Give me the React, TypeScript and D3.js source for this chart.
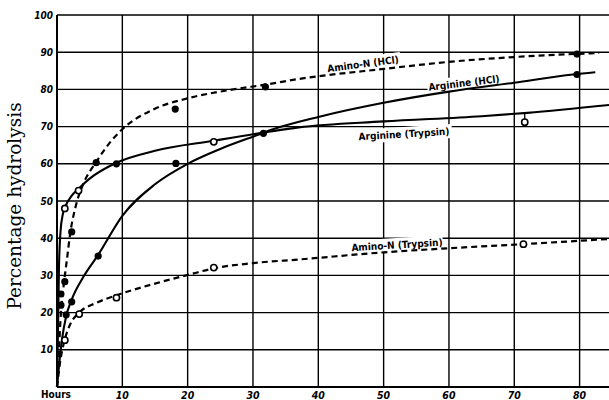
import React from "react";
import * as d3 from "d3";

// ---- data ----
const xTicks = [10, 20, 30, 40, 50, 60, 70, 80];
const yTicks = [10, 20, 30, 40, 50, 60, 70, 80, 90, 100];

// fitted curves [hours, %]
const aminoHClCurve: [number, number][] = [
  [0, 0], [0.3, 10], [0.6, 20], [1, 27], [1.5, 34], [2, 41], [3, 49.5], [4, 54.5],
  [6, 60.5], [8, 65.5], [10, 69.3], [15, 74.8], [20, 77.6], [27, 80], [32, 81.3],
  [37, 82.8], [50, 85.5], [60, 87.4], [70, 88.7], [83, 89.8],
];
const argHClCurve: [number, number][] = [
  [0, 0], [0.7, 12], [1.4, 19], [2.25, 23.5], [4, 29.5], [6.3, 35.5], [10, 46],
  [15, 54.5], [20, 60], [25, 64], [30, 67.3], [34, 69.8], [40, 72.6], [50, 76.4],
  [60, 79.4], [70, 81.8], [79, 84], [82.4, 84.6],
];
const argTrypsinCurve: [number, number][] = [
  [0, 0], [0.15, 15], [0.3, 32], [0.55, 42], [0.9, 46.5], [1.4, 49], [2.2, 51.3],
  [3.3, 53.3], [5, 56], [9, 60.2], [15, 63.5], [24, 66.2], [32, 68.5], [37, 69.8],
  [50, 71.4], [65, 72.8], [72, 73.7], [84.5, 75.8],
];
const aminoTrypsinCurve: [number, number][] = [
  [0, 0], [0.5, 7], [1.2, 12.8], [2, 16.8], [3.4, 20], [6, 22.6], [9, 24.6],
  [15, 27.8], [20.4, 30.3], [24, 31.9], [30, 33.3], [37.2, 34.3], [50, 36.2],
  [60, 37.3], [71.4, 38.4], [84.5, 39.8],
];

// observed points
const filledPoints: [number, number][] = [
  [0.6, 22], [0.6, 25], [1.2, 28.3], [1.4, 19.4], [2.25, 22.9], [2.25, 41.7],
  [6, 60.3], [9.1, 60], [6.3, 35.2], [18.1, 74.7], [18.2, 60.1], [31.9, 80.7],
  [31.6, 68.2], [79.6, 89.5], [79.6, 84],
];
const openPoints: [number, number][] = [
  [1.2, 48], [3.3, 52.8], [1.2, 12.6], [3.4, 19.6], [9.1, 24], [24, 65.9],
  [24, 32.1], [71.6, 71.2], [71.4, 38.4],
];
const stems: [number, number, number][] = [[71.6, 71.2, 73.7]];

const curveLabels = ["Amino-N (HCl)", "Arginine (HCl)", "Arginine (Trypsin)", "Amino-N (Trypsin)"];

export default function App() {
  const W = 609, H = 400;
  const x = d3.scaleLinear().domain([0, 84.5]).range([57, 609]);
  const y = d3.scaleLinear().domain([0, 100]).range([387, 15]);
  const line = d3.line<[number, number]>().x(d => x(d[0])).y(d => y(d[1])).curve(d3.curveMonotoneX);

  const tickFont = "'DejaVu Sans Condensed', 'DejaVu Sans', sans-serif";
  const labelPos = [
    { cx: 363, cy: 64, rot: -7.5, w: 76 },
    { cx: 464, cy: 83, rot: -7, w: 74 },
    { cx: 404, cy: 134, rot: -3.5, w: 96 },
    { cx: 397, cy: 245, rot: -3.5, w: 92 },
  ];

  return (
    <svg width={W} height={H} style={{ position: "absolute", left: 0, top: 0, background: "#fff" }}>
      <rect x={0} y={0} width={W} height={H} fill="#fff" />
      {/* grid */}
      {yTicks.map(t => (
        <line key={"h" + t} x1={x(0)} x2={W} y1={y(t)} y2={y(t)} stroke="#000" strokeWidth={1.4} />
      ))}
      {xTicks.map(t => (
        <line key={"v" + t} x1={x(t)} x2={x(t)} y1={y(100)} y2={y(0)} stroke="#000" strokeWidth={1.4} />
      ))}
      {/* axes */}
      <line x1={x(0)} x2={x(0)} y1={y(100)} y2={y(0)} stroke="#000" strokeWidth={2} />
      <line x1={x(0)} x2={W} y1={y(0)} y2={y(0)} stroke="#000" strokeWidth={2} />

      {/* label backgrounds break grid lines */}
      {labelPos.map((p, i) => (
        <rect key={"bg" + i} x={-p.w / 2} y={-7} width={p.w} height={14} fill="#fff"
          transform={`translate(${p.cx},${p.cy}) rotate(${p.rot})`} />
      ))}

      {/* curves */}
      <path d={line(aminoHClCurve) || ""} fill="none" stroke="#000" strokeWidth={2.2} strokeDasharray="6,4" />
      <path d={line(argHClCurve) || ""} fill="none" stroke="#000" strokeWidth={2.1} />
      <path d={line(argTrypsinCurve) || ""} fill="none" stroke="#000" strokeWidth={2.1} />
      <path d={line(aminoTrypsinCurve) || ""} fill="none" stroke="#000" strokeWidth={2.2} strokeDasharray="6,4" />

      {stems.map((s, i) => (
        <line key={"s" + i} x1={x(s[0])} x2={x(s[0])} y1={y(s[1])} y2={y(s[2])} stroke="#000" strokeWidth={1.3} />
      ))}
      {filledPoints.map((p, i) => (
        <circle key={"f" + i} cx={x(p[0])} cy={y(p[1])} r={3.6} fill="#000" />
      ))}
      {openPoints.map((p, i) => (
        <circle key={"o" + i} cx={x(p[0])} cy={y(p[1])} r={3.1} fill="#fff" stroke="#000" strokeWidth={1.6} />
      ))}

      {/* curve labels */}
      {labelPos.map((p, i) => (
        <text key={"cl" + i} transform={`translate(${p.cx},${p.cy}) rotate(${p.rot})`} textAnchor="middle"
          dy="0.35em" fontFamily={tickFont} fontWeight="bold" fontSize={10} fill="#000">
          {curveLabels[i]}
        </text>
      ))}

      {/* y tick labels */}
      {yTicks.map(t => (
        <text key={"yl" + t} x={x(0) - 4} y={y(t)} dy="0.35em" textAnchor="end" fontFamily={tickFont}
          fontWeight="bold" fontStyle="italic" fontSize={10} fill="#000">{t}</text>
      ))}
      {/* x tick labels */}
      {xTicks.map(t => (
        <text key={"xl" + t} x={x(t)} y={399} textAnchor="middle" fontFamily={tickFont}
          fontWeight="bold" fontStyle="italic" fontSize={10.5} fill="#000">{t}</text>
      ))}
      <text x={56} y={398} textAnchor="middle" fontFamily={tickFont} fontWeight="bold" fontSize={10} fill="#000">Hours</text>

      {/* y axis title */}
      <text transform={`translate(21,206) rotate(-90)`} textAnchor="middle" fontFamily="'DejaVu Serif', serif"
        fontSize={18.5} fill="#000">Percentage hydrolysis</text>
    </svg>
  );
}
